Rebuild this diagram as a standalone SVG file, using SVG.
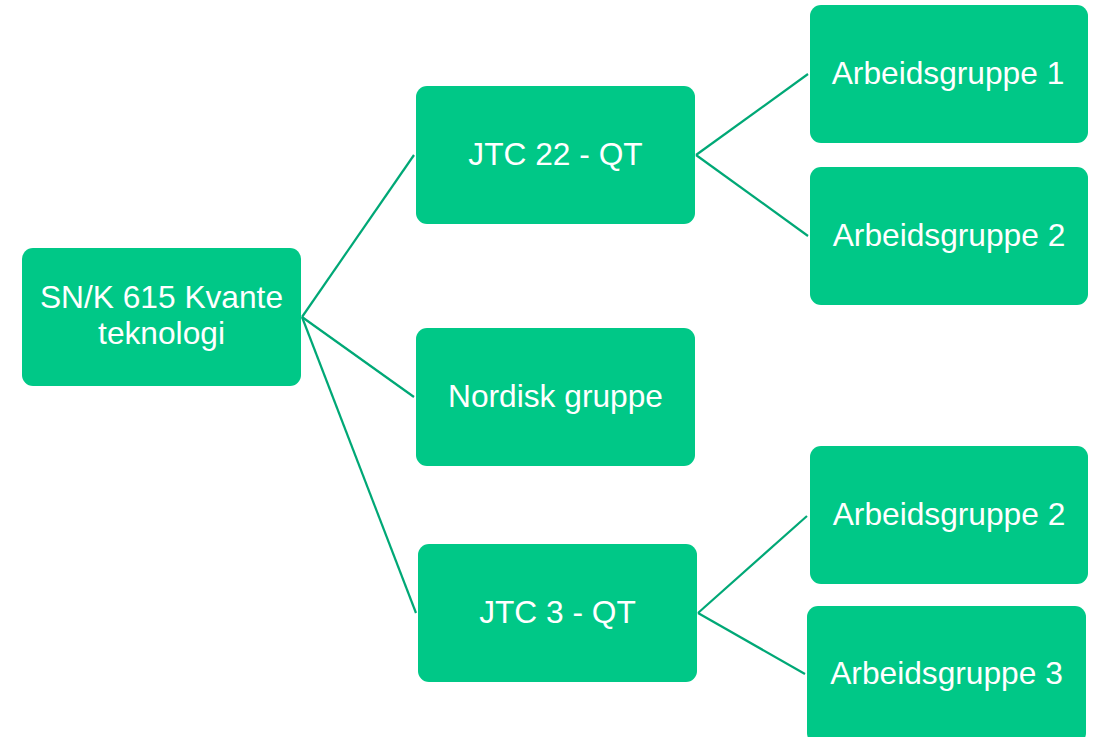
<svg xmlns="http://www.w3.org/2000/svg" width="1096" height="737" viewBox="0 0 1096 737">
<style>
.box{fill:#00C887;}
.lbl{font-family:"Liberation Sans",Arial,sans-serif;font-size:31.7px;fill:#FFFFFF;text-anchor:middle;}
.con{stroke:#00A876;stroke-width:2.2;fill:none;}
</style>
<rect width="1096" height="737" fill="#FFFFFF"/>
<g id="connectors">
<line class="con" x1="302" y1="317" x2="414" y2="155"/>
<line class="con" x1="302" y1="317" x2="414" y2="397"/>
<line class="con" x1="302" y1="317" x2="416" y2="613"/>
<line class="con" x1="696" y1="155" x2="808" y2="74"/>
<line class="con" x1="696" y1="155" x2="808" y2="236"/>
<line class="con" x1="698" y1="613" x2="807" y2="516"/>
<line class="con" x1="698" y1="613" x2="805" y2="674"/>
</g>
<g id="root">
<rect class="box" x="22" y="248" width="279" height="138" rx="11"/>
<text class="lbl" x="161.5" y="308">SN/K 615 Kvante</text>
<text class="lbl" x="161.5" y="344">teknologi</text>
</g>
<g id="jtc22">
<rect class="box" x="416" y="86" width="279" height="138" rx="11"/>
<text class="lbl" x="555.5" y="165">JTC 22 - QT</text>
</g>
<g id="nordisk">
<rect class="box" x="416" y="328" width="279" height="138" rx="11"/>
<text class="lbl" x="555.5" y="407">Nordisk gruppe</text>
</g>
<g id="jtc3">
<rect class="box" x="418" y="544" width="279" height="138" rx="11"/>
<text class="lbl" x="557.5" y="623">JTC 3 - QT</text>
</g>
<g id="ag1-a">
<rect class="box" x="810" y="5" width="278" height="138" rx="11"/>
<text class="lbl" x="948" y="84">Arbeidsgruppe 1</text>
</g>
<g id="ag2-a">
<rect class="box" x="810" y="167" width="278" height="138" rx="11"/>
<text class="lbl" x="949" y="246">Arbeidsgruppe 2</text>
</g>
<g id="ag2-b">
<rect class="box" x="810" y="446" width="278" height="138" rx="11"/>
<text class="lbl" x="949" y="525">Arbeidsgruppe 2</text>
</g>
<g id="ag3">
<rect class="box" x="807" y="606" width="279" height="138" rx="11"/>
<text class="lbl" x="946.5" y="684">Arbeidsgruppe 3</text>
</g>
</svg>
